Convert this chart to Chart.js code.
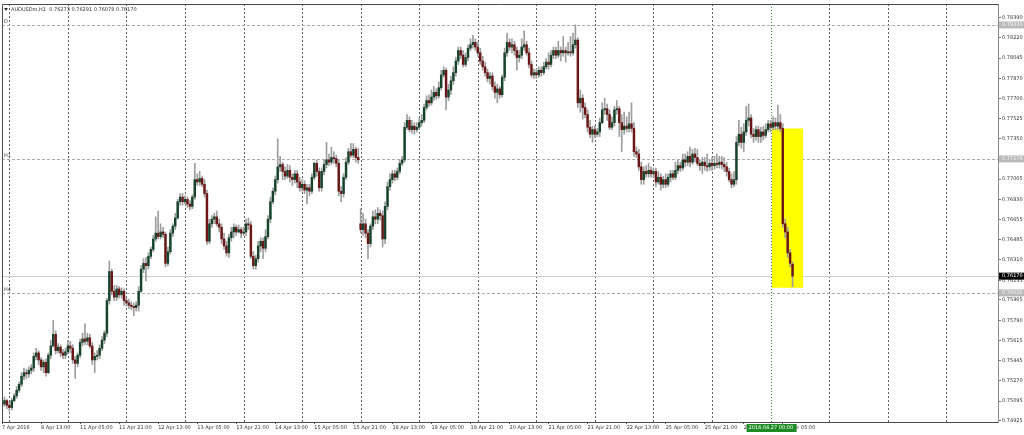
<!DOCTYPE html>
<html>
<head>
<meta charset="utf-8">
<title>AUDUSDm,H1</title>
<script src="https://cdn.jsdelivr.net/npm/chart.js@4.4.1/dist/chart.umd.min.js"></script>
<style>
  html, body { margin: 0; padding: 0; background: #ffffff; }
  #wrap { width: 1024px; height: 435px; }
</style>
</head>
<body>
<div id="wrap"><canvas id="priceChart" width="1024" height="435"></canvas></div>
<script>
// AUDUSD hourly bars, 7 Apr 2016 21:00 -> 27 Apr 2016 09:00 (bar index = hour offset, weekends skipped)
const opens = [
  0.7509,0.7507,0.7510,0.7506,0.7504,0.7510,0.7514,0.7519,0.7524,0.7531,
  0.7534,0.7533,0.7536,0.7538,0.7548,0.7551,0.7545,0.7539,0.7543,0.7534,
  0.7549,0.7557,0.7567,0.7553,0.7556,0.7551,0.7549,0.7552,0.7557,0.7555,
  0.7545,0.7542,0.7549,0.7560,0.7563,0.7561,0.7564,0.7557,0.7545,0.7548,
  0.7549,0.7555,0.7562,0.7568,0.7596,0.7621,0.7604,0.7599,0.7606,0.7601,
  0.7604,0.7596,0.7594,0.7592,0.7591,0.7590,0.7592,0.7604,0.7623,0.7628,
  0.7626,0.7634,0.7640,0.7649,0.7654,0.7651,0.7655,0.7653,0.7628,0.7638,
  0.7654,0.7660,0.7667,0.7681,0.7685,0.7681,0.7683,0.7679,0.7677,0.7685,
  0.7700,0.7698,0.7701,0.7696,0.7688,0.7647,0.7662,0.7666,0.7668,0.7662,
  0.7659,0.7649,0.7643,0.7637,0.7650,0.7655,0.7659,0.7655,0.7657,0.7654,
  0.7655,0.7662,0.7661,0.7634,0.7626,0.7632,0.7643,0.7647,0.7641,0.7651,
  0.7666,0.7681,0.7690,0.7700,0.7711,0.7713,0.7707,0.7703,0.7708,0.7702,
  0.7700,0.7705,0.7698,0.7693,0.7696,0.7691,0.7693,0.7690,0.7702,0.7714,
  0.7707,0.7693,0.7707,0.7713,0.7717,0.7715,0.7719,0.7718,0.7714,0.7690,
  0.7688,0.7702,0.7715,0.7724,0.7721,0.7726,0.7719,0.7662,0.7657,0.7662,
  0.7654,0.7645,0.7660,0.7668,0.7666,0.7671,0.7669,0.7649,0.7677,0.7694,
  0.7700,0.7705,0.7702,0.7707,0.7714,0.7717,0.7745,0.7751,0.7743,0.7746,
  0.7743,0.7745,0.7749,0.7751,0.7762,0.7768,0.7766,0.7771,0.7775,0.7772,
  0.7779,0.7790,0.7794,0.7771,0.7777,0.7785,0.7792,0.7802,0.7811,0.7807,
  0.7799,0.7805,0.7813,0.7816,0.7818,0.7814,0.7809,0.7802,0.7797,0.7792,
  0.7787,0.7789,0.7780,0.7775,0.7778,0.7773,0.7788,0.7809,0.7818,0.7814,
  0.7816,0.7811,0.7805,0.7807,0.7814,0.7816,0.7809,0.7799,0.7790,0.7792,
  0.7790,0.7794,0.7792,0.7797,0.7801,0.7799,0.7807,0.7811,0.7807,0.7811,
  0.7809,0.7811,0.7809,0.7810,0.7809,0.7816,0.7820,0.7766,0.7770,0.7762,
  0.7756,0.7745,0.7739,0.7743,0.7739,0.7741,0.7749,0.7760,0.7761,0.7756,
  0.7745,0.7749,0.7760,0.7761,0.7749,0.7743,0.7746,0.7744,0.7748,0.7744,
  0.7724,0.7722,0.7711,0.7700,0.7707,0.7705,0.7708,0.7705,0.7707,0.7698,
  0.7702,0.7696,0.7700,0.7696,0.7702,0.7705,0.7702,0.7708,0.7712,0.7710,
  0.7717,0.7715,0.7720,0.7715,0.7722,0.7719,0.7714,0.7712,0.7715,0.7712,
  0.7711,0.7714,0.7712,0.7714,0.7713,0.7715,0.7713,0.7711,0.7707,0.7700,
  0.7696,0.7700,0.7732,0.7739,0.7732,0.7741,0.7751,0.7753,0.7739,0.7737,
  0.7743,0.7737,0.7741,0.7738,0.7743,0.7748,0.7745,0.7749,0.7746,0.7749,
  0.7744,0.7662,0.7655,0.7637,0.76273
];
const highs = [
  0.7512,0.7513,0.7511,0.7509,0.7512,0.7516,0.7522,0.7526,0.7534,0.7538,
  0.7537,0.7539,0.7541,0.7551,0.7555,0.7553,0.7547,0.7545,0.7546,0.7551,
  0.7562,0.7579,0.7570,0.7559,0.7558,0.7554,0.7555,0.7562,0.7561,0.7558,
  0.7548,0.7551,0.7563,0.7568,0.7576,0.7568,0.7567,0.7560,0.7551,0.7553,
  0.7558,0.7565,0.7570,0.7598,0.7630,0.7623,0.7609,0.7609,0.7608,0.7607,
  0.7606,0.7598,0.7597,0.7595,0.7594,0.7595,0.7608,0.7626,0.7632,0.7633,
  0.7637,0.7642,0.7652,0.7668,0.7673,0.7662,0.7659,0.7655,0.7642,0.7657,
  0.7662,0.7671,0.7683,0.7688,0.7688,0.7686,0.7685,0.7682,0.7687,0.7714,
  0.7705,0.7707,0.7703,0.7700,0.7691,0.7666,0.7669,0.7671,0.7673,0.7666,
  0.7662,0.7654,0.7647,0.7653,0.7659,0.7662,0.7661,0.7661,0.7659,0.7659,
  0.7666,0.7667,0.7664,0.7638,0.7635,0.7647,0.7650,0.7650,0.7657,0.7669,
  0.7685,0.7693,0.7703,0.7735,0.7720,0.7715,0.7711,0.7713,0.7712,0.7705,
  0.7708,0.7708,0.7702,0.7700,0.7699,0.7696,0.7696,0.7705,0.7715,0.7717,
  0.7710,0.7710,0.7717,0.7732,0.7722,0.7728,0.7724,0.7721,0.7717,0.7694,
  0.7705,0.7719,0.7727,0.7731,0.7731,0.7728,0.7727,0.7675,0.7671,0.7666,
  0.7657,0.7662,0.7673,0.7674,0.7676,0.7674,0.7673,0.7681,0.7698,0.7705,
  0.7708,0.7708,0.7710,0.7717,0.7720,0.7749,0.7756,0.7754,0.7751,0.7749,
  0.7749,0.7753,0.7756,0.7765,0.7772,0.7773,0.7777,0.7780,0.7778,0.7784,
  0.7794,0.7797,0.7796,0.7782,0.7789,0.7797,0.7805,0.7814,0.7814,0.7811,
  0.7809,0.7816,0.7821,0.7824,0.7821,0.7818,0.7813,0.7806,0.7801,0.7795,
  0.7792,0.7792,0.7784,0.7782,0.7780,0.7790,0.7813,0.7826,0.7821,0.7821,
  0.7819,0.7814,0.7811,0.7821,0.7828,0.7819,0.7813,0.7802,0.7795,0.7795,
  0.7797,0.7797,0.7801,0.7804,0.7809,0.7811,0.7814,0.7814,0.7819,0.7814,
  0.7823,0.7814,0.7818,0.7823,0.7826,0.7833,0.7822,0.7777,0.7773,0.7766,
  0.7760,0.7751,0.7746,0.7746,0.7744,0.7753,0.7766,0.7770,0.7765,0.7760,
  0.7754,0.7763,0.7768,0.7763,0.7756,0.7758,0.7754,0.7758,0.7766,0.7749,
  0.7728,0.7726,0.7715,0.7711,0.7712,0.7714,0.7711,0.7710,0.7710,0.7707,
  0.7705,0.7703,0.7705,0.7705,0.7708,0.7708,0.7715,0.7717,0.7715,0.7722,
  0.7722,0.7724,0.7728,0.7726,0.7727,0.7726,0.7717,0.7719,0.7719,0.7722,
  0.7717,0.7719,0.7720,0.7722,0.7720,0.7720,0.7719,0.7715,0.7710,0.7705,
  0.7707,0.7737,0.7751,0.7745,0.7748,0.7763,0.7765,0.7756,0.7744,0.7746,
  0.7746,0.7745,0.7746,0.7748,0.7751,0.7751,0.7754,0.7753,0.7764,0.7756,
  0.7748,0.7666,0.7659,0.7640,0.76291
];
const lows = [
  0.7504,0.7505,0.7503,0.7501,0.7502,0.7509,0.7512,0.7517,0.7522,0.7528,
  0.7529,0.7530,0.7533,0.7535,0.7545,0.7541,0.7536,0.7534,0.7531,0.7533,
  0.7546,0.7556,0.7550,0.7551,0.7548,0.7546,0.7546,0.7550,0.7551,0.7542,
  0.7529,0.7539,0.7547,0.7557,0.7558,0.7558,0.7555,0.7541,0.7534,0.7545,
  0.7546,0.7553,0.7559,0.7565,0.7593,0.7601,0.7596,0.7596,0.7598,0.7598,
  0.7592,0.7591,0.7589,0.7588,0.7583,0.7587,0.7587,0.7603,0.7620,0.7613,
  0.7623,0.7632,0.7638,0.7647,0.7649,0.7649,0.7650,0.7625,0.7626,0.7636,
  0.7651,0.7657,0.7666,0.7678,0.7678,0.7679,0.7676,0.7674,0.7675,0.7683,
  0.7695,0.7695,0.7694,0.7685,0.7644,0.7645,0.7659,0.7662,0.7660,0.7655,
  0.7645,0.7640,0.7634,0.7633,0.7647,0.7650,0.7652,0.7654,0.7650,0.7652,
  0.7652,0.7657,0.7632,0.7623,0.7623,0.7629,0.7638,0.7632,0.7638,0.7649,
  0.7663,0.7679,0.7687,0.7697,0.7707,0.7700,0.7700,0.7701,0.7698,0.7695,
  0.7697,0.7693,0.7690,0.7690,0.7688,0.7679,0.7686,0.7688,0.7700,0.7703,
  0.7690,0.7690,0.7704,0.7710,0.7712,0.7713,0.7714,0.7711,0.7686,0.7681,
  0.7685,0.7700,0.7713,0.7719,0.7719,0.7715,0.7714,0.7654,0.7652,0.7650,
  0.7632,0.7642,0.7657,0.7662,0.7662,0.7665,0.7642,0.7645,0.7674,0.7691,
  0.7697,0.7699,0.7700,0.7705,0.7712,0.7715,0.7743,0.7741,0.7740,0.7739,
  0.7741,0.7743,0.7746,0.7749,0.7760,0.7763,0.7764,0.7768,0.7769,0.7770,
  0.7777,0.7788,0.7760,0.7768,0.7773,0.7782,0.7789,0.7799,0.7804,0.7797,
  0.7797,0.7802,0.7811,0.7813,0.7811,0.7806,0.7799,0.7794,0.7789,0.7784,
  0.7782,0.7777,0.7770,0.7766,0.7770,0.7771,0.7785,0.7806,0.7811,0.7809,
  0.7807,0.7794,0.7801,0.7804,0.7811,0.7807,0.7796,0.7788,0.7787,0.7787,
  0.7788,0.7789,0.7790,0.7795,0.7795,0.7797,0.7804,0.7804,0.7805,0.7802,
  0.7806,0.7801,0.7807,0.7806,0.7807,0.7813,0.7762,0.7758,0.7752,0.7753,
  0.7741,0.7736,0.7732,0.7736,0.7737,0.7737,0.7748,0.7756,0.7751,0.7743,
  0.7743,0.7746,0.7756,0.7737,0.7724,0.7739,0.7741,0.7741,0.7741,0.7720,
  0.7719,0.7708,0.7696,0.7696,0.7702,0.7702,0.7702,0.7702,0.7694,0.7696,
  0.7691,0.7693,0.7693,0.7694,0.7698,0.7700,0.7700,0.7705,0.7707,0.7708,
  0.7711,0.7712,0.7711,0.7713,0.7715,0.7712,0.7708,0.7705,0.7708,0.7707,
  0.7708,0.7708,0.7709,0.7710,0.7710,0.7709,0.7707,0.7703,0.7698,0.7693,
  0.7694,0.7696,0.7729,0.7727,0.7724,0.7738,0.7746,0.7736,0.7732,0.7734,
  0.7732,0.7732,0.7734,0.7736,0.7741,0.7741,0.7743,0.7743,0.7743,0.7741,
  0.7659,0.7650,0.7633,0.7625,0.76078
];
const closes = [
  0.7507,0.7510,0.7506,0.7504,0.7510,0.7514,0.7519,0.7524,0.7531,0.7534,
  0.7533,0.7536,0.7538,0.7548,0.7551,0.7545,0.7539,0.7543,0.7534,0.7549,
  0.7557,0.7567,0.7553,0.7556,0.7551,0.7549,0.7552,0.7557,0.7555,0.7545,
  0.7542,0.7549,0.7560,0.7563,0.7561,0.7564,0.7557,0.7545,0.7548,0.7549,
  0.7555,0.7562,0.7568,0.7596,0.7621,0.7604,0.7599,0.7606,0.7601,0.7604,
  0.7596,0.7594,0.7592,0.7591,0.7590,0.7592,0.7604,0.7623,0.7628,0.7626,
  0.7634,0.7640,0.7649,0.7654,0.7651,0.7655,0.7653,0.7628,0.7638,0.7654,
  0.7660,0.7667,0.7681,0.7685,0.7681,0.7683,0.7679,0.7677,0.7685,0.7700,
  0.7698,0.7701,0.7696,0.7688,0.7647,0.7662,0.7666,0.7668,0.7662,0.7659,
  0.7649,0.7643,0.7637,0.7650,0.7655,0.7659,0.7655,0.7657,0.7654,0.7655,
  0.7662,0.7661,0.7634,0.7626,0.7632,0.7643,0.7647,0.7641,0.7651,0.7666,
  0.7681,0.7690,0.7700,0.7711,0.7713,0.7707,0.7703,0.7708,0.7702,0.7700,
  0.7705,0.7698,0.7693,0.7696,0.7691,0.7693,0.7690,0.7702,0.7714,0.7707,
  0.7693,0.7707,0.7713,0.7717,0.7715,0.7719,0.7718,0.7714,0.7690,0.7688,
  0.7702,0.7715,0.7724,0.7721,0.7726,0.7719,0.7717,0.7657,0.7662,0.7654,
  0.7645,0.7660,0.7668,0.7666,0.7671,0.7669,0.7649,0.7677,0.7694,0.7700,
  0.7705,0.7702,0.7707,0.7714,0.7717,0.7745,0.7751,0.7743,0.7746,0.7743,
  0.7745,0.7749,0.7751,0.7762,0.7768,0.7766,0.7771,0.7775,0.7772,0.7779,
  0.7790,0.7794,0.7771,0.7777,0.7785,0.7792,0.7802,0.7811,0.7807,0.7799,
  0.7805,0.7813,0.7816,0.7818,0.7814,0.7809,0.7802,0.7797,0.7792,0.7787,
  0.7789,0.7780,0.7775,0.7778,0.7773,0.7788,0.7809,0.7818,0.7814,0.7816,
  0.7811,0.7805,0.7807,0.7814,0.7816,0.7809,0.7799,0.7790,0.7792,0.7790,
  0.7794,0.7792,0.7797,0.7801,0.7799,0.7807,0.7811,0.7807,0.7811,0.7809,
  0.7811,0.7809,0.7810,0.7809,0.7816,0.7820,0.7766,0.7770,0.7762,0.7756,
  0.7745,0.7739,0.7743,0.7739,0.7741,0.7749,0.7760,0.7761,0.7756,0.7745,
  0.7749,0.7760,0.7761,0.7749,0.7743,0.7746,0.7744,0.7748,0.7744,0.7724,
  0.7722,0.7711,0.7700,0.7707,0.7705,0.7708,0.7705,0.7707,0.7698,0.7702,
  0.7696,0.7700,0.7696,0.7702,0.7705,0.7702,0.7708,0.7712,0.7710,0.7717,
  0.7715,0.7720,0.7715,0.7722,0.7719,0.7714,0.7712,0.7715,0.7712,0.7711,
  0.7714,0.7712,0.7714,0.7713,0.7715,0.7713,0.7711,0.7707,0.7700,0.7696,
  0.7700,0.7732,0.7739,0.7732,0.7741,0.7751,0.7753,0.7739,0.7737,0.7743,
  0.7737,0.7741,0.7738,0.7743,0.7748,0.7745,0.7749,0.7746,0.7749,0.7744,
  0.7662,0.7655,0.7637,0.7628,0.76170
];

// time axis labels (every 16 bars) and day separators
const labelBars = [0,16,32,48,64,80,96,112,128,144,160,176,192,208,224,240,256,272,288,304,320];
const timeLabels = ['7 Apr 2016','8 Apr 13:00','11 Apr 05:00','11 Apr 21:00','12 Apr 13:00','13 Apr 05:00',
  '13 Apr 21:00','14 Apr 13:00','15 Apr 05:00','15 Apr 21:00','18 Apr 13:00','19 Apr 05:00','19 Apr 21:00',
  '20 Apr 13:00','21 Apr 05:00','21 Apr 21:00','22 Apr 13:00','25 Apr 05:00','25 Apr 21:00','26 Apr 13:00','27 Apr 05:00'];
const daySeparatorBars = [3,27,51,75,99,123,147,171,195,219,243,267,291,339,363,387];
const markerBar = 315; // 2016.04.27 00:00 vertical line
const markerLabel = '2016.04.27 00:00';

// price scale
const priceTicks = [0.78390,0.78220,0.78045,0.77870,0.77700,0.77525,0.77350,0.77175,0.77005,0.76830,0.76655,
  0.76485,0.76310,0.76135,0.75965,0.75790,0.75615,0.75445,0.75270,0.75095,0.74925];
const levelTags = ['D','H1','H4'];
const levelPrices = [0.78330,0.77178,0.76026];
const bidPrice = 0.76170;
const symbolTitle = 'AUDUSDm,H1';

// highlighted area around the 27 Apr drop
const boxBars = [315.6, 328.3];
const boxPrices = [0.7744, 0.7607];

const BULL = '#17432a';
const BEAR = '#6a1616';
const WICK = '#9d9d9d';
const FONT = { family: 'DejaVu Sans', size: 5 };

const mtOverlay = {
    id: 'mtOverlay',
    beforeDatasetsDraw(chart) {
        const { ctx, chartArea: a, scales: { x, y } } = chart;
        ctx.save();
        ctx.beginPath();
        ctx.rect(a.left, a.top, a.right - a.left, a.bottom - a.top);
        ctx.clip();

        // day separators
        ctx.lineWidth = 1;
        ctx.strokeStyle = '#5e5e5e';
        ctx.setLineDash([2, 2]);
        daySeparatorBars.forEach(b => {
            const px = Math.round(x.getPixelForValue(b)) + 0.5;
            ctx.beginPath(); ctx.moveTo(px, a.top); ctx.lineTo(px, a.bottom); ctx.stroke();
        });

        // D / H1 / H4 levels
        ctx.strokeStyle = '#ababab';
        ctx.setLineDash([3, 2]);
        levelPrices.forEach(p => {
            const py = Math.round(y.getPixelForValue(p)) + 0.5;
            ctx.beginPath(); ctx.moveTo(a.left, py); ctx.lineTo(a.right, py); ctx.stroke();
        });

        // bid line
        ctx.setLineDash([]);
        ctx.strokeStyle = '#cfcfcf';
        const by = Math.round(y.getPixelForValue(bidPrice)) + 0.5;
        ctx.beginPath(); ctx.moveTo(a.left, by); ctx.lineTo(a.right, by); ctx.stroke();

        // yellow rectangle
        const bx0 = x.getPixelForValue(boxBars[0]);
        const bx1 = x.getPixelForValue(boxBars[1]);
        const by0 = y.getPixelForValue(boxPrices[0]);
        const by1 = y.getPixelForValue(boxPrices[1]);
        ctx.fillStyle = '#ffff00';
        ctx.fillRect(bx0, by0, bx1 - bx0, by1 - by0);

        // green vertical line
        ctx.strokeStyle = '#2f9a2f';
        ctx.setLineDash([1, 2]);
        const mx = Math.round(x.getPixelForValue(markerBar)) + 0.5;
        ctx.beginPath(); ctx.moveTo(mx, a.top); ctx.lineTo(mx, a.bottom); ctx.stroke();
        ctx.restore();
    },
    afterDraw(chart) {
        const { ctx, chartArea: a, scales: { x, y } } = chart;
        ctx.save();
        ctx.font = '5px "DejaVu Sans"';
        ctx.textBaseline = 'middle';

        // frame
        ctx.strokeStyle = '#4a4a4a';
        ctx.lineWidth = 1;
        ctx.beginPath();
        ctx.moveTo(a.left + 0.5, a.bottom + 0.5);
        ctx.lineTo(a.left + 0.5, a.top + 0.5);
        ctx.lineTo(a.right + 0.5, a.top + 0.5);
        ctx.stroke();

        // level tags at left and price boxes at right
        levelPrices.forEach((p, i) => {
            const py = y.getPixelForValue(p);
            ctx.fillStyle = '#444';
            ctx.textAlign = 'left';
            ctx.fillText(levelTags[i], a.left + 2, py - 3);
            ctx.fillStyle = '#b9b9b9';
            ctx.fillRect(a.right + 1, py - 3.5, 26, 7);
            ctx.fillStyle = '#f4f4f4';
            ctx.fillText(p.toFixed(5), a.right + 4, py);
        });
        const by = y.getPixelForValue(bidPrice);
        ctx.fillStyle = '#000';
        ctx.fillRect(a.right + 1, by - 3.5, 26, 7);
        ctx.fillStyle = '#fff';
        ctx.fillText(bidPrice.toFixed(5), a.right + 4, by);

        // time marker label
        const mx = x.getPixelForValue(markerBar);
        ctx.fillStyle = '#1f8b25';
        ctx.fillRect(mx - 24, a.bottom + 2, 50, 8);
        ctx.fillStyle = '#fff';
        ctx.fillText(markerLabel, mx - 22, a.bottom + 6);

        // header
        ctx.fillStyle = '#333';
        ctx.beginPath();
        ctx.moveTo(a.left + 2, a.top + 4);
        ctx.lineTo(a.left + 6, a.top + 4);
        ctx.lineTo(a.left + 4, a.top + 7);
        ctx.closePath();
        ctx.fill();
        const n = closes.length - 1;
        const ohlc = [opens[n], highs[n], lows[n], closes[n]].map(v => v.toFixed(5)).join(' ');
        ctx.fillText(symbolTitle + '  ' + ohlc, a.left + 9, a.top + 6);
        ctx.restore();
    }
};

function buildCandleConfig() {
    const bodyData = opens.map((o, i) => ({ x: i, y: [o, closes[i]] }));
    const wickData = lows.map((l, i) => ({ x: i, y: [l, highs[i]] }));
    const bodyColors = opens.map((o, i) => closes[i] >= o ? BULL : BEAR);

    return {
        type: 'bar',
        data: {
            datasets: [{
                label: 'body',
                data: bodyData,
                backgroundColor: bodyColors,
                barThickness: 1.8,
                minBarLength: 1,
                grouped: false,
                order: 0
            }, {
                label: 'wick',
                data: wickData,
                backgroundColor: WICK,
                barThickness: 1,
                grouped: false,
                order: 1
            }]
        },
        options: {
            responsive: false,
            animation: false,
            devicePixelRatio: 1,
            layout: { padding: { left: 2, top: 1, right: 0, bottom: 0 } },
            plugins: {
                legend: { display: false },
                tooltip: { enabled: false },
                title: { display: false }
            },
            scales: {
                x: {
                    type: 'linear',
                    min: 0,
                    max: 408.2,
                    offset: false,
                    afterBuildTicks: scale => { scale.ticks = labelBars.map(v => ({ value: v })); },
                    afterFit: scale => { scale.height = 13; },
                    grid: { drawOnChartArea: false, drawTicks: true, tickLength: 2, color: '#555', offset: false },
                    border: { display: true, color: '#4a4a4a' },
                    ticks: {
                        autoSkip: false,
                        maxRotation: 0,
                        minRotation: 0,
                        align: 'start',
                        padding: 1,
                        color: '#333',
                        font: FONT,
                        callback: (v, i) => timeLabels[i]
                    }
                },
                y: {
                    position: 'right',
                    min: 0.74916,
                    max: 0.78510,
                    afterBuildTicks: scale => { scale.ticks = priceTicks.map(v => ({ value: v })); },
                    afterFit: scale => { scale.width = 26; },
                    grid: { drawOnChartArea: false, drawTicks: true, tickLength: 3, color: '#777' },
                    border: { display: true, color: '#8a8a8a' },
                    ticks: {
                        padding: 1,
                        color: '#333',
                        font: FONT,
                        callback: v => v.toFixed(5)
                    }
                }
            }
        },
        plugins: [mtOverlay]
    };
}

const ctx = document.getElementById('priceChart').getContext('2d');
const candleChart = new Chart(ctx, buildCandleConfig());
</script>
</body>
</html>
